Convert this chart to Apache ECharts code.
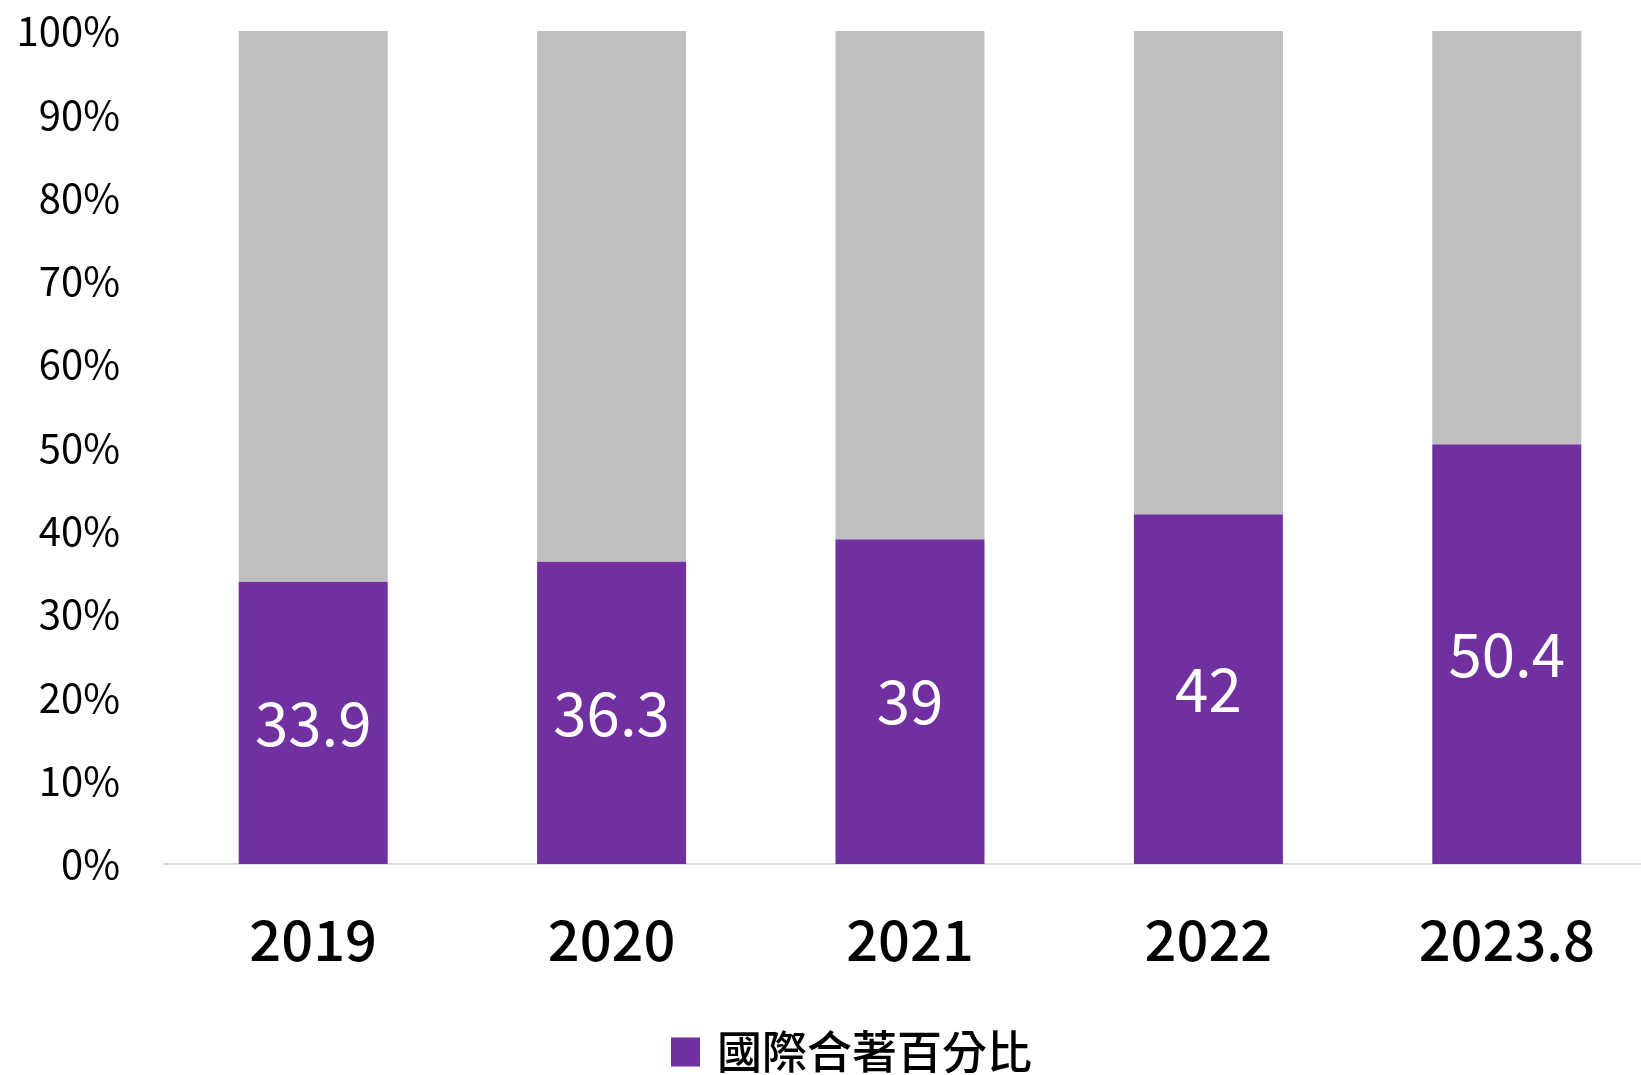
<!DOCTYPE html>
<html>
<head>
<meta charset="utf-8">
<script src="https://cdn.jsdelivr.net/npm/echarts@6/dist/echarts.min.js"></script>
<style>
html,body{margin:0;padding:0;background:#fff;overflow:hidden;width:1641px;height:1075px;}
#chart{width:1656px;height:1075px;}
</style>
</head>
<body>
<div id="chart"></div>
<script>
const categories = ['2019', '2020', '2021', '2022', '2023.8'];
const intlValues = [33.9, 36.3, 39, 42, 50.4];
const otherValues = [66.1, 63.7, 61, 58, 49.6];
const yTicks = { min: 0, max: 100, interval: 10 };
const seriesName = '國際合著百分比';

const FONT = '"Noto Sans CJK TC", "Noto Sans", sans-serif';
const chart = echarts.init(document.getElementById('chart'));
chart.setOption({
  animation: false,
  grid: { left: 164, right: 0, top: 31, height: 833, containLabel: false },
  legend: {
    data: [seriesName],
    left: 671,
    bottom: 0,
    padding: 0,
    itemWidth: 29,
    itemHeight: 29,
    itemGap: 10,
    icon: 'rect',
    textStyle: { fontFamily: FONT, fontSize: 45, lineHeight: 46, fontWeight: 500, color: '#000', padding: [0, 0, 0, 12] }
  },
  xAxis: {
    type: 'category',
    data: categories,
    axisLine: { lineStyle: { color: '#D9D9D9', width: 2 } },
    axisTick: { show: false },
    axisLabel: { fontFamily: FONT, fontSize: 56, lineHeight: 56, fontWeight: 500, color: '#000', margin: 48 }
  },
  yAxis: {
    type: 'value',
    min: yTicks.min,
    max: yTicks.max,
    interval: yTicks.interval,
    splitLine: { show: false },
    axisLine: { show: false },
    axisTick: { show: false },
    axisLabel: { fontFamily: FONT, fontSize: 40, color: '#000', margin: 44, formatter: '{value}%' }
  },
  series: [
    {
      name: seriesName,
      type: 'bar',
      stack: 'total',
      data: intlValues,
      barWidth: 149,
      itemStyle: { color: '#7030A0' },
      label: { show: true, position: 'inside', color: '#fff', fontFamily: FONT, fontSize: 60 }
    },
    {
      name: 'other',
      type: 'bar',
      stack: 'total',
      data: otherValues,
      barWidth: 149,
      itemStyle: { color: '#BFBFBF' }
    }
  ]
});
</script>
</body>
</html>
